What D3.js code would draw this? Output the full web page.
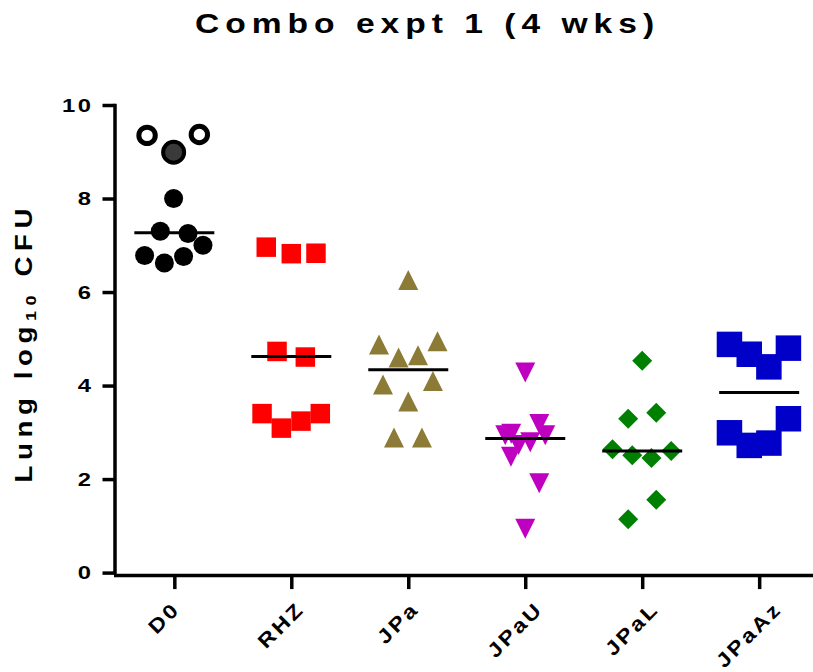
<!DOCTYPE html>
<html>
<head>
<meta charset="utf-8">
<script src="https://cdn.jsdelivr.net/npm/d3@7"></script>
<style>
  body { margin: 0; background: #fff; }
  text { font-family: Arial, "Liberation Sans", sans-serif; font-weight: bold; }
</style>
</head>
<body>
<script>
var categories = ["D0", "RHZ", "JPa", "JPaU", "JPaL", "JPaAz"];
var yTicks = [0, 2, 4, 6, 8, 10];

// log10 CFU per mouse
var d0Values = [8.00, 7.30, 7.25, 7.00, 6.78, 6.62, 6.76];
var d0Jitter = [-0.006, -0.12, 0.117, 0.245, -0.254, -0.085, 0.079];
var d0OpenValues = [9.35, 9.37];
var d0OpenJitter = [-0.233, 0.214];
var d0GreyValues = [8.99];
var d0GreyJitter = [-0.006];

var rhzValues = [6.96, 6.82, 6.83, 4.73, 4.61, 3.40, 3.09, 3.24, 3.40];
var rhzJitter = [-0.214, 0, 0.211, -0.122, 0.12, -0.25, -0.085, 0.083, 0.248];

var jpaValues = [6.26, 4.88, 4.95, 4.60, 4.65, 4.02, 4.10, 3.66, 2.89, 2.89];
var jpaJitter = [0, -0.25, 0.25, -0.083, 0.083, -0.216, 0.211, 0, -0.122, 0.117];

var jpauValues = [4.28, 3.18, 2.94, 2.97, 2.94, 2.73, 2.79, 2.48, 1.91, 0.94];
var jpauJitter = [0, 0.12, 0.171, -0.12, -0.171, -0.057, 0.043, -0.122, 0.12, 0];

var jpalValues = [4.53, 3.42, 3.29, 2.64, 2.51, 2.45, 2.60, 1.56, 1.14];
var jpalJitter = [0, 0.12, -0.12, -0.254, -0.085, 0.079, 0.248, 0.12, -0.12];

var jpaazValues = [4.88, 4.67, 4.40, 4.80, 2.99, 2.72, 2.77, 3.29];
var jpaazJitter = [-0.254, -0.085, 0.083, 0.25, -0.254, -0.085, 0.083, 0.25];

var groupMeans = [7.27, 4.62, 4.34, 2.87, 2.60, 3.85];

var colors = ["#000000", "#ff0000", "#8c7b36", "#c000c0", "#008000", "#0000c8"];

var width = 813;
var height = 672;
var stretch = 1.2; // the picture's lettering is wider than plain Arial

var x = d3.scalePoint()
  .domain(categories)
  .range([113.5, 820])
  .padding(0.52);

var y = d3.scaleLinear()
  .domain([0, 10])
  .range([572.6, 105]);

var svg = d3.select("body")
  .append("svg")
  .attr("width", width)
  .attr("height", height);

// symbol paths, centred on 0,0
function square(s) {
  var h = s / 2;
  return "M" + (-h) + "," + (-h) + "h" + s + "v" + s + "h" + (-s) + "Z";
}
function triUp(w, h) {
  return "M0," + (-h / 2) + "L" + (w / 2) + "," + (h / 2) + "L" + (-w / 2) + "," + (h / 2) + "Z";
}
function triDown(w, h) {
  return "M0," + (h / 2) + "L" + (w / 2) + "," + (-h / 2) + "L" + (-w / 2) + "," + (-h / 2) + "Z";
}
function diamond(r) {
  return "M0," + (-r) + "L" + r + ",0L0," + r + "L" + (-r) + ",0Z";
}

function pack(cat, values, jitter) {
  return values.map(function(v, i) {
    return { cat: cat, value: v, jitter: jitter[i] };
  });
}

function px(d) { return x(d.cat) + d.jitter * x.step(); }
function py(d) { return y(d.value); }

// D0 circles
svg.selectAll("circle.d0")
  .data(pack("D0", d0Values, d0Jitter))
  .enter()
  .append("circle")
  .attr("cx", px)
  .attr("cy", py)
  .attr("r", 9.5)
  .attr("fill", colors[0]);

svg.selectAll("circle.open")
  .data(pack("D0", d0OpenValues, d0OpenJitter))
  .enter()
  .append("circle")
  .attr("cx", px)
  .attr("cy", py)
  .attr("r", 8.2)
  .attr("fill", "#fff")
  .attr("stroke", "#000")
  .attr("stroke-width", 5);

svg.selectAll("circle.grey")
  .data(pack("D0", d0GreyValues, d0GreyJitter))
  .enter()
  .append("circle")
  .attr("cx", px)
  .attr("cy", py)
  .attr("r", 10.5)
  .attr("fill", "#3a3a3a")
  .attr("stroke", "#000")
  .attr("stroke-width", 4);

function drawGroup(data, color, shape) {
  svg.append("g")
    .selectAll("path")
    .data(data)
    .enter()
    .append("path")
    .attr("transform", function(d) { return "translate(" + px(d) + "," + py(d) + ")"; })
    .attr("d", shape)
    .attr("fill", color);
}

drawGroup(pack("RHZ", rhzValues, rhzJitter), colors[1], square(19.5));
drawGroup(pack("JPa", jpaValues, jpaJitter), colors[2], triUp(20, 20));
drawGroup(pack("JPaU", jpauValues, jpauJitter), colors[3], triDown(20, 20));
drawGroup(pack("JPaL", jpalValues, jpalJitter), colors[4], diamond(10));
drawGroup(pack("JPaAz", jpaazValues, jpaazJitter), colors[5], square(25.5));

// mean lines
svg.selectAll("line.mean")
  .data(groupMeans)
  .enter()
  .append("line")
  .attr("x1", function(d, i) { return x(categories[i]) - 40; })
  .attr("x2", function(d, i) { return x(categories[i]) + 40; })
  .attr("y1", function(d) { return y(d); })
  .attr("y2", function(d) { return y(d); })
  .attr("stroke", "#000")
  .attr("stroke-width", 3);

// axes
var yAxis = svg.append("g")
  .attr("transform", "translate(114.5,0)")
  .call(d3.axisLeft(y).tickValues(yTicks).tickSize(12).tickSizeOuter(0).tickPadding(9));

var axisY = y(0) + 2.5;
var xAxis = svg.append("g")
  .attr("transform", "translate(0," + axisY + ")")
  .call(d3.axisBottom(x).tickSize(14).tickSizeOuter(0));

svg.selectAll(".domain, .tick line")
  .attr("stroke", "#000")
  .attr("stroke-width", 3.5);
yAxis.select(".domain").attr("stroke-linecap", "square");

yAxis.selectAll("text")
  .attr("font-size", 19)
  .style("letter-spacing", "2px")
  .attr("fill", "#000")
  .attr("x", 0)
  .attr("transform", "translate(-21,0) scale(1.25,1)");

// category labels: turned 45 degrees, their box centred a little left of the tick
var labelSize = 20, labelGap = 2.5, labelStretch = 1.15;
xAxis.selectAll(".tick text")
  .attr("font-size", labelSize)
  .style("letter-spacing", labelGap + "px")
  .style("text-anchor", "start")
  .attr("fill", "#000")
  .attr("x", 0)
  .attr("y", 0)
  .attr("dy", 0)
  .each(function() {
    var len = (this.getComputedTextLength() - labelGap) * labelStretch;
    var cap = 0.716 * labelSize;
    var tx = -12 - (len - cap) / (2 * Math.SQRT2);
    var ty = (602 - axisY) + (cap + len) / Math.SQRT2;
    d3.select(this).attr("transform",
      "translate(" + tx + "," + ty + ") rotate(-45) scale(" + labelStretch + ",1)");
  });

// title
svg.append("text")
  .attr("transform", "translate(427.5,33) scale(" + stretch + ",1)")
  .attr("text-anchor", "middle")
  .attr("font-size", 28)
  .style("letter-spacing", "5px")
  .text("Combo expt 1 (4 wks)");

// y label
var yl = svg.append("text")
  .attr("transform", "translate(32,342.7) rotate(-90) scale(" + stretch + ",1)")
  .attr("text-anchor", "middle")
  .attr("font-size", 23)
  .style("letter-spacing", "4.7px");
yl.append("tspan").text("Lung log");
yl.append("tspan").attr("font-size", 15).attr("dy", 4).text("10");
yl.append("tspan").attr("dy", -4).text(" CFU");
</script>
</body>
</html>
